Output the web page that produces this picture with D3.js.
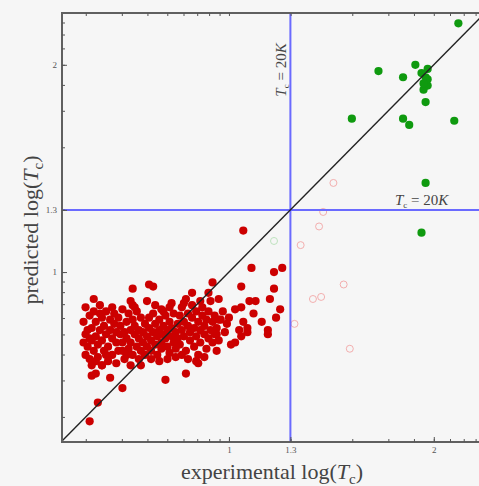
<!DOCTYPE html>
<html>
<head>
<meta charset="utf-8">
<script src="https://cdn.jsdelivr.net/npm/d3@7"></script>
<style>
  html, body { margin: 0; padding: 0; background: #f6f6f6; }
  svg { display: block; }
  text { font-family: "Liberation Serif", "DejaVu Serif", serif; }
</style>
</head>
<body>
<svg id="chart" width="479" height="486"></svg>
<script>
// ---- data (log10 Tc values) ----
const redExp = [
  0.32,0.36,0.48,0.42,0.33,0.35,0.69,0.79,0.85,0.38,0.32,
  0.53,0.63,0.60,0.34,0.30,0.92,0.61,0.52,0.54,0.43,0.37,0.82,0.90,0.78,0.86,0.67,0.71,
  1.07,1.11,1.22,1.26,1.06,1.22,1.20,1.10,1.13,1.06,1.12,1.25,1.23,1.16,1.19,1.19,1.09,1.06,1.09,1.07,0.98,1.05,1.03,1.01,1.00,0.97,0.99,0.95,0.96,1.03,0.94,
  0.29,0.30,0.31,0.30,0.32,0.33,0.33,0.34,0.34,0.35,0.35,0.36,0.36,0.37,0.37,0.38,0.38,0.39,0.39,0.40,0.40,0.41,0.41,0.42,0.42,0.43,0.43,0.44,0.44,0.45,0.45,0.31,0.32,0.35,0.38,0.40,0.33,0.29,
  0.46,0.46,0.47,0.47,0.48,0.48,0.49,0.49,0.50,0.50,0.51,0.51,0.52,0.52,0.53,0.53,0.54,0.54,0.55,0.55,0.56,0.56,0.57,0.57,0.58,0.58,0.59,0.59,0.60,0.60,0.50,0.53,0.56,0.48,0.57,0.45,0.52,
  0.61,0.61,0.62,0.62,0.63,0.63,0.64,0.64,0.65,0.65,0.66,0.66,0.67,0.67,0.68,0.68,0.69,0.69,0.70,0.70,0.71,0.71,0.72,0.72,0.73,0.73,0.74,0.74,0.75,0.75,0.62,0.66,0.70,0.74,0.64,0.68,0.72,
  0.76,0.76,0.77,0.77,0.78,0.78,0.79,0.79,0.80,0.80,0.81,0.81,0.82,0.82,0.83,0.83,0.84,0.84,0.85,0.85,0.86,0.86,0.87,0.87,0.88,0.88,0.89,0.89,0.90,0.90,0.91,0.91,0.92,0.92,0.93,0.93,0.94,0.94,0.95,0.95,0.80,0.84,0.88,0.77
];
const redPred = [
  0.28,0.37,0.44,0.49,0.50,0.51,0.48,0.51,0.56,0.55,0.58,
  0.92,0.93,0.86,0.87,0.83,0.95,0.94,0.86,0.83,0.83,0.80,0.90,0.90,0.85,0.86,0.82,0.83,
  1.20,1.02,1.00,1.02,0.93,0.92,0.87,0.86,0.86,0.83,0.80,0.82,0.78,0.76,0.72,0.70,0.71,0.69,0.73,0.76,0.71,0.72,0.66,0.65,0.78,0.81,0.75,0.87,0.77,0.82,0.70,
  0.76,0.70,0.64,0.60,0.79,0.73,0.67,0.62,0.81,0.76,0.69,0.65,0.59,0.72,0.84,0.78,0.67,0.62,0.74,0.81,0.70,0.64,0.57,0.77,0.72,0.68,0.60,0.80,0.75,0.66,0.71,0.72,0.68,0.57,0.55,0.60,0.55,0.66,
  0.62,0.78,0.70,0.74,0.66,0.82,0.58,0.71,0.76,0.68,0.63,0.80,0.72,0.66,0.60,0.77,0.70,0.74,0.64,0.81,0.68,0.72,0.62,0.78,0.66,0.71,0.75,0.60,0.69,0.64,0.60,0.84,0.58,0.62,0.55,0.56,0.55,
  0.73,0.78,0.67,0.62,0.71,0.80,0.65,0.75,0.69,0.60,0.72,0.77,0.66,0.63,0.70,0.74,0.79,0.68,0.64,0.72,0.76,0.61,0.69,0.73,0.66,0.80,0.71,0.63,0.75,0.68,0.58,0.57,0.58,0.59,0.84,0.81,0.85,
  0.79,0.65,0.72,0.83,0.69,0.76,0.62,0.87,0.74,0.80,0.67,0.71,0.78,0.84,0.64,0.73,0.69,0.81,0.76,0.60,0.72,0.66,0.79,0.83,0.70,0.74,0.63,0.77,0.68,0.81,0.72,0.86,0.66,0.76,0.70,0.79,0.73,0.62,0.77,0.67,0.58,0.57,0.59,0.60
];
const greenExp  = [2.12,1.73,1.85,1.91,1.94,1.97,1.96,1.97,1.95,1.97,1.95,1.96,1.60,1.85,1.88,2.10,1.96,1.94];
const greenPred = [2.20,1.97,1.94,2.00,1.96,1.98,1.94,1.90,1.88,1.93,1.91,1.82,1.74,1.74,1.71,1.73,1.43,1.19];
const openRedExp  = [1.51,1.46,1.44,1.35,1.56,1.41,1.45,1.32,1.59];
const openRedPred = [1.43,1.29,1.22,1.13,0.94,0.87,0.88,0.75,0.63];
const openGreenExp  = [1.22];
const openGreenPred = [1.15];

const minorTickTc = [2,3,4,5,6,7,8,9,10,20,40,60,80,100,120,140,160];
const majorTicks = [1, 1.3, 2];
const majorTickLabels = ["1", "1.3", "2"];
const threshold = 1.3; // log10(20 K)

// ---- layout ----
const svg = d3.select("#chart");
const L = 62, T = 13, R = 485, B = 442;
const x = d3.scaleLinear().domain([0.185, 2.25]).range([L, R]);
const y = d3.scaleLinear().domain([0.18, 2.25]).range([B, T]);

svg.append("rect").attr("width", 479).attr("height", 486).attr("fill", "#f6f6f6");

svg.append("defs").append("clipPath").attr("id", "clip")
  .append("rect").attr("x", L).attr("y", T).attr("width", R - L).attr("height", B - T);

const plot = svg.append("g").attr("clip-path", "url(#clip)");

const zip = (a, b) => a.map((v, i) => [v, b[i]]);

// open circles
plot.selectAll("circle.ored").data(zip(openRedExp, openRedPred)).join("circle")
  .attr("cx", d => x(d[0])).attr("cy", d => y(d[1])).attr("r", 3.5)
  .attr("fill", "none").attr("stroke", "#f2a6a6").attr("stroke-width", 0.9);
plot.selectAll("circle.ogreen").data(zip(openGreenExp, openGreenPred)).join("circle")
  .attr("cx", d => x(d[0])).attr("cy", d => y(d[1])).attr("r", 3.5)
  .attr("fill", "none").attr("stroke", "#b8e0b8").attr("stroke-width", 0.9);

// filled points
plot.append("g").selectAll("circle").data(zip(redExp, redPred)).join("circle")
  .attr("cx", d => x(d[0])).attr("cy", d => y(d[1])).attr("r", 4.1)
  .attr("fill", "#cc0000");
plot.append("g").selectAll("circle").data(zip(greenExp, greenPred)).join("circle")
  .attr("cx", d => x(d[0])).attr("cy", d => y(d[1])).attr("r", 4.1)
  .attr("fill", "#0f9a0f");

// threshold lines
plot.append("line").attr("x1", x(threshold)).attr("x2", x(threshold))
  .attr("y1", T).attr("y2", B).attr("stroke", "#6a6aff").attr("stroke-width", 2);
plot.append("line").attr("x1", L).attr("x2", R)
  .attr("y1", y(threshold)).attr("y2", y(threshold)).attr("stroke", "#6a6aff").attr("stroke-width", 2);

// diagonal
plot.append("path")
  .attr("d", d3.line().x(d => x(d)).y(d => y(d))([0.1, 2.4]))
  .attr("stroke", "#222").attr("stroke-width", 1.4).attr("fill", "none");

// frame
svg.append("rect").attr("x", L).attr("y", T).attr("width", R - L).attr("height", B - T)
  .attr("fill", "none").attr("stroke", "#606060").attr("stroke-width", 2);

// axes
const minorLog = minorTickTc.map(v => Math.log10(v));
function styleAxis(g) {
  g.select(".domain").remove();
  g.selectAll(".tick line").attr("stroke", "#555").attr("stroke-width", 1);
  g.selectAll(".tick text").attr("fill", "#555").style("font-size", "9px")
    .style("font-family", '"Liberation Serif", "DejaVu Serif", serif');
}
svg.append("g").attr("transform", `translate(0,${B})`)
  .call(d3.axisBottom(x).tickValues(minorLog).tickSizeInner(-3).tickSizeOuter(0).tickFormat(""))
  .call(styleAxis);
svg.append("g").attr("transform", `translate(0,${B})`)
  .call(d3.axisBottom(x).tickValues(majorTicks).tickSizeInner(-5).tickSizeOuter(0).tickPadding(5)
    .tickFormat((d, i) => majorTickLabels[i]))
  .call(styleAxis);
svg.append("g").attr("transform", `translate(0,${T})`)
  .call(d3.axisTop(x).tickValues(minorLog).tickSizeInner(-3).tickSizeOuter(0).tickFormat(""))
  .call(styleAxis);
svg.append("g").attr("transform", `translate(${L},0)`)
  .call(d3.axisLeft(y).tickValues(minorLog).tickSizeInner(-3).tickSizeOuter(0).tickFormat(""))
  .call(styleAxis);
svg.append("g").attr("transform", `translate(${L},0)`)
  .call(d3.axisLeft(y).tickValues(majorTicks).tickSizeInner(-5).tickSizeOuter(0).tickPadding(5)
    .tickFormat((d, i) => majorTickLabels[i]))
  .call(styleAxis);

// axis titles
function tcLabel(sel, prefix) {
  sel.append("tspan").text(prefix + "log(");
  sel.append("tspan").style("font-style", "italic").text("T");
  sel.append("tspan").attr("dy", 5).style("font-size", "15px").text("c");
  sel.append("tspan").attr("dy", -5).text(")");
}
const xt = svg.append("text").attr("x", 272).attr("y", 479).attr("text-anchor", "middle")
  .attr("fill", "#444").style("font-size", "22px");
tcLabel(xt, "experimental ");
const yt = svg.append("text").attr("transform", "translate(38,230) rotate(-90)")
  .attr("text-anchor", "middle").attr("fill", "#444").style("font-size", "22px");
tcLabel(yt, "predicted ");

// annotations
function tcAnno(sel) {
  sel.append("tspan").style("font-style", "italic").text("T");
  sel.append("tspan").attr("dy", 3).style("font-size", "9px").text("c");
  sel.append("tspan").attr("dy", -3).text(" = 20");
  sel.append("tspan").style("font-style", "italic").text("K");
}
const a1 = svg.append("text").attr("transform", `translate(${x(threshold) - 4},70) rotate(-90)`)
  .attr("text-anchor", "middle").attr("fill", "#444").style("font-size", "15px");
tcAnno(a1);
const a2 = svg.append("text").attr("x", 395).attr("y", y(threshold) - 5)
  .attr("fill", "#444").style("font-size", "15px");
tcAnno(a2);
</script>
</body>
</html>
